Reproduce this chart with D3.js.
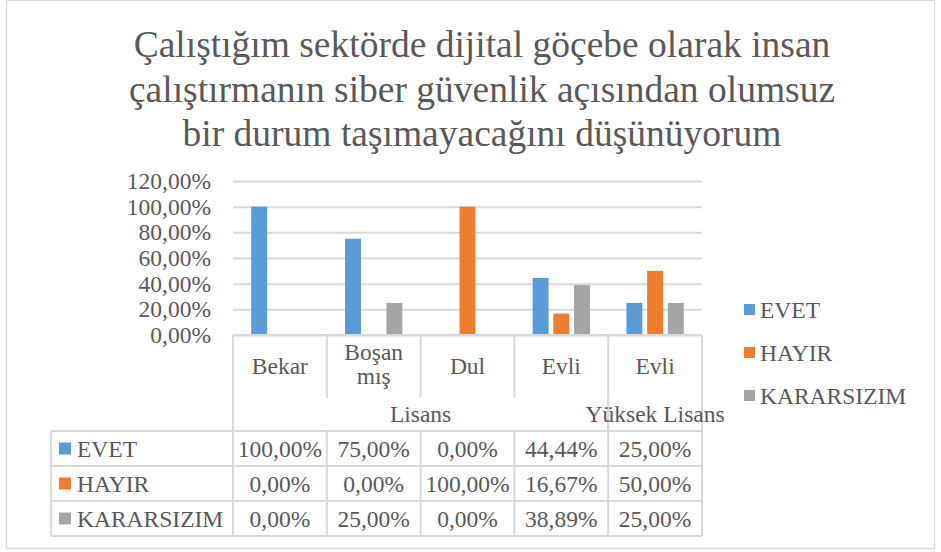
<!DOCTYPE html>
<html>
<head>
<meta charset="utf-8">
<script src="https://cdn.jsdelivr.net/npm/d3@7"></script>
<style>
  html, body { margin: 0; padding: 0; background: #fff; }
  svg { display: block; }
  text { font-family: "Liberation Serif", "Times New Roman", serif; fill: #595959; }
</style>
</head>
<body>
<svg id="chart" width="941" height="552"></svg>
<script>
// ---- data ----
const titleLines = [
  "Çalıştığım sektörde dijital göçebe olarak insan",
  "çalıştırmanın siber güvenlik açısından olumsuz",
  "bir durum taşımayacağını düşünüyorum"
];
const categories = ["Bekar", "Boşan mış", "Dul", "Evli", "Evli"];
const groups = ["Lisans", "Lisans", "Lisans", "Lisans", "Yüksek Lisans"];
const seriesNames = ["EVET", "HAYIR", "KARARSIZIM"];
const evet = [100, 75, 0, 44.44, 25];
const hayir = [0, 0, 100, 16.67, 50];
const kararsizim = [0, 25, 0, 38.89, 25];
const yTicks = [0, 20, 40, 60, 80, 100, 120];
const colors = ["#5B9BD5", "#ED7D31", "#A5A5A5"];

const seriesValues = [evet, hayir, kararsizim];
const fmt = v => v.toFixed(2).replace(".", ",") + "%";

const svg = d3.select("#chart");
const gridColor = "#D9D9D9";
const fs = 23.5;

// outer border
svg.append("rect").attr("x", 6.5).attr("y", 0.5).attr("width", 928).attr("height", 548)
  .attr("fill", "#fff").attr("stroke", gridColor).attr("stroke-width", 1.3);

// title
svg.append("g").selectAll("text").data(titleLines).join("text")
  .attr("x", 482).attr("y", (d, i) => 57 + i * 44.5)
  .attr("text-anchor", "middle").attr("font-size", 37.5)
  .text(d => d);

// scales
const plotLeft = 233, plotRight = 702, y0 = 335, yTop = 181;
const x = d3.scaleBand().domain(d3.range(categories.length)).range([plotLeft, plotRight]).padding(0);
const x1 = d3.scaleBand().domain(seriesNames)
  .range([18.2, x.bandwidth() - 18.2]).paddingInner(0.23).paddingOuter(0);
const y = d3.scaleLinear().domain([0, 120]).range([y0, yTop]);

// gridlines + y axis
const yAxis = d3.axisLeft(y).tickValues(yTicks).tickFormat(d => fmt(d))
  .tickSize(-(plotRight - plotLeft)).tickPadding(22);
const gy = svg.append("g").attr("transform", `translate(${plotLeft},0)`).call(yAxis);
gy.select(".domain").remove();
gy.selectAll(".tick line").attr("stroke", gridColor).attr("stroke-width", 2);
gy.selectAll(".tick text").attr("font-size", fs).attr("fill", "#595959")
  .attr("font-family", "Liberation Serif, Times New Roman, serif");

// bars
const bars = svg.append("g");
seriesNames.forEach((s, si) => {
  bars.append("g").attr("fill", colors[si]).selectAll("rect")
    .data(seriesValues[si]).join("rect")
    .attr("x", (d, i) => x(i) + x1(s))
    .attr("y", d => y(d))
    .attr("width", x1.bandwidth())
    .attr("height", d => y0 - y(d));
});

// category axis box
const axisG = svg.append("g").attr("stroke", gridColor).attr("stroke-width", 2);
axisG.append("line").attr("x1", plotLeft).attr("x2", plotRight).attr("y1", y0).attr("y2", y0);
const catBottom = 398, tableTop = 431, rowH = 35, tableLeft = 51;
// category separators
d3.range(categories.length + 1).forEach(i => {
  const xx = i < categories.length ? x(i) : plotRight;
  axisG.append("line").attr("x1", xx).attr("x2", xx).attr("y1", y0).attr("y2", catBottom);
});
// group spans
const groupSpans = [];
groups.forEach((g, i) => {
  const last = groupSpans[groupSpans.length - 1];
  if (last && last.name === g) last.end = i; else groupSpans.push({ name: g, start: i, end: i });
});
groupSpans.forEach(gs => {
  const xs = x(gs.start), xe = x(gs.end) + x.bandwidth();
  [xs, xe].forEach(xx => axisG.append("line").attr("x1", xx).attr("x2", xx).attr("y1", catBottom).attr("y2", tableTop));
  svg.append("text").attr("x", (xs + xe) / 2).attr("y", 422).attr("text-anchor", "middle")
    .attr("font-size", fs).text(gs.name);
});
// category labels
categories.forEach((c, i) => {
  const words = c.split(" ");
  const cx = x(i) + x.bandwidth() / 2;
  const t = svg.append("text").attr("text-anchor", "middle").attr("font-size", fs);
  if (words.length === 1) {
    t.attr("x", cx).attr("y", 374).text(c);
  } else {
    words.forEach((w, wi) => t.append("tspan").attr("x", cx).attr("y", 360 + wi * 24).text(w));
  }
});

// data table
const tableG = svg.append("g");
const tableBottom = tableTop + rowH * seriesNames.length;
d3.range(seriesNames.length + 1).forEach(r => {
  tableG.append("line").attr("x1", tableLeft).attr("x2", plotRight)
    .attr("y1", tableTop + r * rowH).attr("y2", tableTop + r * rowH)
    .attr("stroke", gridColor).attr("stroke-width", 2);
});
[tableLeft].concat(d3.range(categories.length).map(i => x(i)), [plotRight]).forEach(xx => {
  tableG.append("line").attr("x1", xx).attr("x2", xx).attr("y1", tableTop).attr("y2", tableBottom)
    .attr("stroke", gridColor).attr("stroke-width", 2);
});
seriesNames.forEach((s, si) => {
  const cy = tableTop + si * rowH + rowH / 2;
  tableG.append("rect").attr("x", 59).attr("y", cy - 6).attr("width", 12).attr("height", 12).attr("fill", colors[si]);
  tableG.append("text").attr("x", 77).attr("y", cy + 8).attr("font-size", fs).text(s);
  seriesValues[si].forEach((v, i) => {
    tableG.append("text").attr("x", x(i) + x.bandwidth() / 2).attr("y", cy + 8)
      .attr("text-anchor", "middle").attr("font-size", fs).text(fmt(v));
  });
});

// legend
const legend = svg.append("g");
seriesNames.forEach((s, si) => {
  const cy = 309.5 + si * 43;
  legend.append("rect").attr("x", 744).attr("y", cy - 5.5).attr("width", 11).attr("height", 11).attr("fill", colors[si]);
  legend.append("text").attr("x", 760).attr("y", cy + 8).attr("font-size", fs).text(s);
});
</script>
</body>
</html>
